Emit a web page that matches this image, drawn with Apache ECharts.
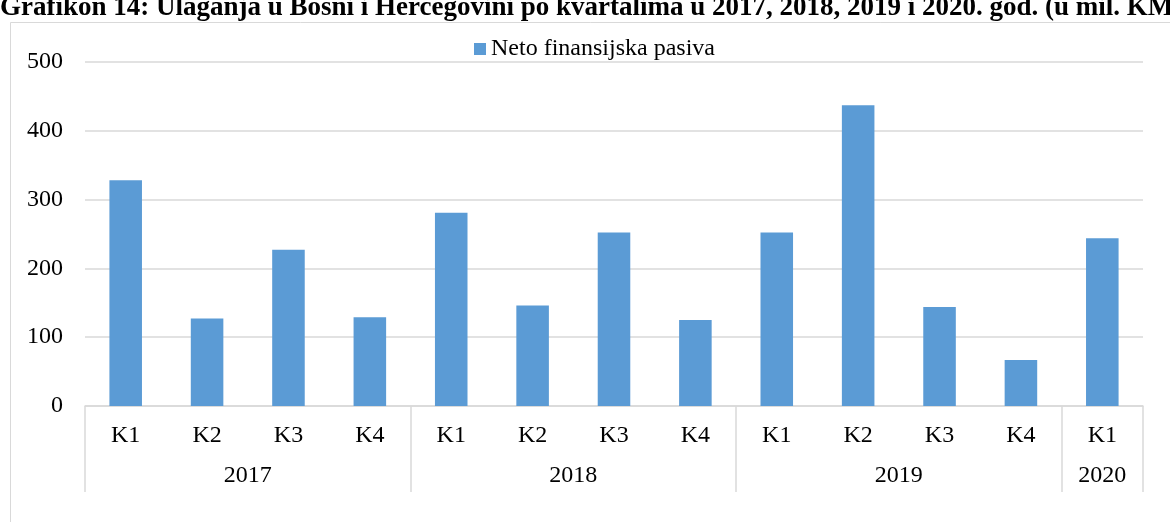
<!DOCTYPE html>
<html>
<head>
<meta charset="utf-8">
<script src="https://cdn.jsdelivr.net/npm/echarts@6/dist/echarts.min.js"></script>
<style>
  html, body { margin: 0; padding: 0; background: #fff; }
  #main { width: 1170px; height: 522px; }
</style>
</head>
<body>
<div id="main"></div>
<script>
// podaci (u mil. KM)
var titleText = 'Grafikon 14: Ulaganja u Bosni i Hercegovini po kvartalima u 2017, 2018, 2019 i 2020. god. (u mil. KM)';
var seriesName = 'Neto finansijska pasiva';
var quarters = ['K1', 'K2', 'K3', 'K4', 'K1', 'K2', 'K3', 'K4', 'K1', 'K2', 'K3', 'K4', 'K1'];
var years = ['2017', '2018', '2019', '2020'];
var quartersPerYear = [4, 4, 4, 1];
var values = [328, 127, 227, 129, 281, 146, 252, 125, 252, 437, 144, 67, 244];
var yTicks = [0, 100, 200, 300, 400, 500];

var serif = 'Liberation Serif, Times New Roman, serif';
var gridGray = '#d9d9d9';

// druga razina osi: pola-kvartalni koraci, godine centrirane, granice godina
var yearSlots = [];
var yearBounds = [];
for (var i = 0; i <= quarters.length * 2; i++) yearSlots.push('');
var start = 0;
for (var j = 0; j < years.length; j++) {
  yearBounds.push(start * 2);
  yearSlots[start * 2 + quartersPerYear[j]] = years[j];
  start += quartersPerYear[j];
}
yearBounds.push(start * 2);

var chart = echarts.init(document.getElementById('main'));
var option = {
  animation: false,
  backgroundColor: '#fff',
  title: {
    text: titleText,
    left: 0,
    top: -5,
    padding: 0,
    textStyle: { fontFamily: serif, fontSize: 27, fontWeight: 'bold', color: '#000' }
  },
  graphic: [{
    type: 'rect',
    shape: { x: 10.5, y: 22.5, width: 1300, height: 700 },
    style: { fill: 'none', stroke: gridGray, lineWidth: 1 },
    silent: true
  }],
  legend: {
    data: [seriesName],
    left: 474,
    top: 37,
    padding: 0,
    icon: 'rect',
    itemWidth: 12,
    itemHeight: 12,
    textStyle: { fontFamily: serif, fontSize: 24, color: '#000' }
  },
  grid: { left: 85, right: 27, top: 62, bottom: 116 },
  xAxis: [{
    type: 'category',
    data: quarters,
    axisLine: { lineStyle: { color: gridGray, width: 1.5 } },
    axisTick: { show: false },
    axisLabel: { interval: 0, margin: 18, fontFamily: serif, fontSize: 24, color: '#000' }
  }, {
    type: 'category',
    data: yearSlots,
    position: 'bottom',
    boundaryGap: false,
    axisLine: { show: false },
    axisTick: {
      show: true,
      length: 86,
      interval: function (idx) { return yearBounds.indexOf(idx) >= 0; },
      lineStyle: { color: gridGray, width: 1.5 }
    },
    axisLabel: {
      interval: 0,
      margin: 58,
      fontFamily: serif, fontSize: 24, color: '#000'
    }
  }],
  yAxis: {
    type: 'value',
    min: yTicks[0],
    max: yTicks[yTicks.length - 1],
    interval: yTicks[1] - yTicks[0],
    axisLine: { show: false },
    axisTick: { show: false },
    axisLabel: { margin: 22, fontFamily: serif, fontSize: 24, color: '#000' },
    splitLine: { lineStyle: { color: gridGray, width: 1.5 } }
  },
  series: [{
    name: seriesName,
    type: 'bar',
    xAxisIndex: 0,
    data: values,
    barWidth: '40%',
    itemStyle: { color: '#5b9bd5' }
  }]
};
chart.setOption(option);
</script>
</body>
</html>
